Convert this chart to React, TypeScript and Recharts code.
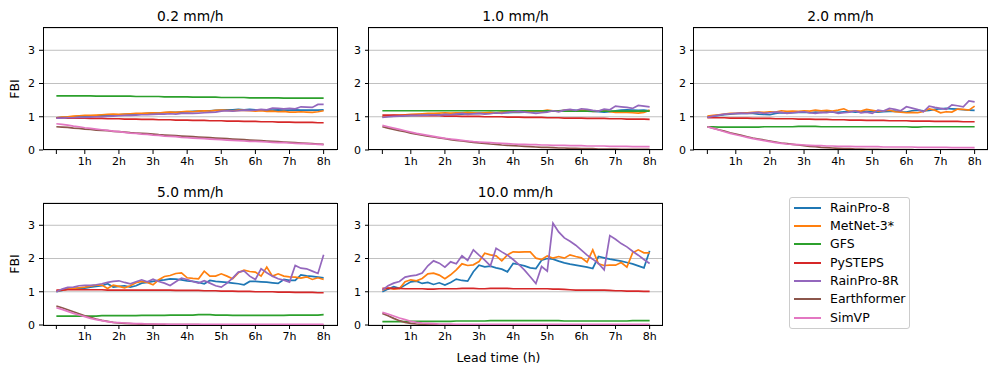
import React from "react";
import { LineChart, Line, XAxis, YAxis, CartesianGrid } from "recharts";

const models = ["RainPro-8", "MetNet-3*", "GFS", "PySTEPS", "RainPro-8R", "Earthformer", "SimVP"];
const keys = ["rp8", "mn3", "gfs", "pys", "rp8r", "ef", "sim"];
const colors = ["#1f77b4", "#ff7f0e", "#2ca02c", "#d62728", "#9467bd", "#8c564b", "#e377c2"];
const thresholds = ["0.2 mm/h", "1.0 mm/h", "2.0 mm/h", "5.0 mm/h", "10.0 mm/h"];

// lead-time steps are 10 min, index 0 = first step
const tickIndex = [0, 5, 11, 17, 23, 29, 35, 41, 47];
const tickLabels = ["", "1h", "2h", "3h", "4h", "5h", "6h", "7h", "8h"];
const yTicks = [0, 1, 2, 3];

// ---- 0.2 mm/h ----
const rp8_t02 = [
  0.97, 0.98, 0.99, 1.0, 1.01, 1.02, 1.02, 1.03, 1.04, 1.05, 1.05, 1.06,
  1.07, 1.08, 1.08, 1.09, 1.1, 1.11, 1.11, 1.12, 1.13, 1.13, 1.14, 1.15,
  1.16, 1.17, 1.18, 1.18, 1.19, 1.2, 1.21, 1.21, 1.22, 1.21, 1.22, 1.21,
  1.2, 1.21, 1.2, 1.21, 1.2, 1.2, 1.21, 1.2, 1.2, 1.2, 1.2, 1.21,
];
const mn3_t02 = [
  0.97, 0.99, 1.0, 1.02, 1.03, 1.04, 1.04, 1.05, 1.06, 1.07, 1.08, 1.07,
  1.08, 1.09, 1.1, 1.1, 1.11, 1.12, 1.11, 1.13, 1.14, 1.13, 1.15, 1.16,
  1.15, 1.17, 1.18, 1.17, 1.19, 1.2, 1.19, 1.18, 1.2, 1.19, 1.18, 1.17,
  1.18, 1.16, 1.17, 1.15, 1.16, 1.14, 1.14, 1.15, 1.14, 1.13, 1.15, 1.18,
];
const gfs_t02 = [
  1.63, 1.63, 1.63, 1.63, 1.63, 1.63, 1.63, 1.62, 1.62, 1.62, 1.62, 1.62,
  1.62, 1.62, 1.61, 1.61, 1.61, 1.61, 1.61, 1.6, 1.6, 1.6, 1.6, 1.6,
  1.59, 1.59, 1.59, 1.59, 1.59, 1.58, 1.58, 1.58, 1.58, 1.58, 1.57, 1.57,
  1.57, 1.57, 1.57, 1.57, 1.56, 1.56, 1.56, 1.56, 1.56, 1.56, 1.56, 1.56,
];
const pys_t02 = [
  0.97, 0.97, 0.96, 0.96, 0.96, 0.96, 0.95, 0.95, 0.95, 0.94, 0.94, 0.94,
  0.93, 0.93, 0.93, 0.92, 0.92, 0.92, 0.91, 0.91, 0.91, 0.9, 0.9, 0.9,
  0.89, 0.89, 0.89, 0.88, 0.88, 0.88, 0.87, 0.87, 0.87, 0.86, 0.86, 0.86,
  0.85, 0.85, 0.85, 0.84, 0.84, 0.84, 0.83, 0.83, 0.83, 0.83, 0.82, 0.82,
];
const rp8r_t02 = [
  0.96, 0.96, 0.97, 0.97, 0.98, 0.98, 0.99, 1.0, 1.0, 1.01, 1.02, 1.03,
  1.04, 1.04, 1.05, 1.06, 1.06, 1.07, 1.08, 1.08, 1.09, 1.08, 1.1, 1.11,
  1.1, 1.11, 1.12, 1.13, 1.14, 1.17, 1.18, 1.17, 1.18, 1.2, 1.19, 1.2,
  1.22, 1.21, 1.26, 1.25, 1.24, 1.25, 1.24, 1.3, 1.29, 1.28, 1.37, 1.37,
];
const ef_t02 = [
  0.7, 0.69, 0.68, 0.66, 0.65, 0.63, 0.62, 0.6, 0.59, 0.58, 0.56, 0.55,
  0.54, 0.52, 0.51, 0.5, 0.49, 0.48, 0.46, 0.45, 0.44, 0.43, 0.42, 0.41,
  0.4, 0.39, 0.38, 0.37, 0.36, 0.35, 0.34, 0.33, 0.32, 0.31, 0.3, 0.29,
  0.28, 0.27, 0.26, 0.25, 0.24, 0.23, 0.22, 0.21, 0.2, 0.19, 0.18, 0.17,
];
const sim_t02 = [
  0.79, 0.77, 0.75, 0.72, 0.7, 0.67, 0.65, 0.63, 0.61, 0.59, 0.57, 0.55,
  0.53, 0.51, 0.5, 0.48, 0.47, 0.45, 0.44, 0.42, 0.41, 0.4, 0.38, 0.37,
  0.36, 0.35, 0.34, 0.33, 0.32, 0.31, 0.3, 0.29, 0.28, 0.27, 0.26, 0.26,
  0.25, 0.24, 0.23, 0.22, 0.22, 0.21, 0.2, 0.19, 0.19, 0.18, 0.17, 0.16,
];

// ---- 1.0 mm/h ----
const rp8_t10 = [
  1.0, 1.01, 1.02, 1.02, 1.03, 1.04, 1.04, 1.05, 1.05, 1.06, 1.06, 1.07,
  1.07, 1.08, 1.08, 1.09, 1.09, 1.1, 1.1, 1.11, 1.11, 1.12, 1.12, 1.13,
  1.13, 1.14, 1.14, 1.15, 1.16, 1.17, 1.17, 1.18, 1.19, 1.2, 1.19, 1.18,
  1.17, 1.16, 1.15, 1.14, 1.15, 1.18, 1.2, 1.21, 1.2, 1.19, 1.2, 1.18,
];
const mn3_t10 = [
  1.0, 1.02, 1.04, 1.05, 1.06, 1.07, 1.08, 1.09, 1.1, 1.1, 1.11, 1.12,
  1.11, 1.12, 1.12, 1.13, 1.12, 1.11, 1.12, 1.13, 1.12, 1.14, 1.15, 1.16,
  1.15, 1.17, 1.16, 1.18, 1.17, 1.2, 1.18, 1.17, 1.19, 1.18, 1.17, 1.2,
  1.19, 1.16, 1.17, 1.2, 1.15, 1.13, 1.14, 1.13, 1.12, 1.11, 1.13, 1.2,
];
const gfs_t10 = [
  1.18, 1.18, 1.18, 1.18, 1.18, 1.18, 1.18, 1.18, 1.18, 1.18, 1.18, 1.18,
  1.18, 1.18, 1.18, 1.18, 1.18, 1.18, 1.18, 1.18, 1.18, 1.18, 1.18, 1.18,
  1.18, 1.18, 1.18, 1.18, 1.18, 1.18, 1.17, 1.17, 1.17, 1.17, 1.17, 1.17,
  1.17, 1.17, 1.17, 1.17, 1.17, 1.17, 1.17, 1.17, 1.17, 1.17, 1.17, 1.17,
];
const pys_t10 = [
  1.05, 1.05, 1.05, 1.04, 1.04, 1.04, 1.04, 1.03, 1.03, 1.03, 1.03, 1.02,
  1.02, 1.02, 1.01, 1.01, 1.01, 1.01, 1.0, 1.0, 1.0, 1.0, 0.99, 0.99,
  0.99, 0.98, 0.98, 0.98, 0.98, 0.97, 0.97, 0.97, 0.96, 0.96, 0.96, 0.96,
  0.95, 0.95, 0.95, 0.95, 0.94, 0.94, 0.94, 0.93, 0.93, 0.93, 0.93, 0.92,
];
const rp8r_t10 = [
  0.98, 1.0, 1.01, 1.02, 1.03, 1.04, 1.04, 1.05, 1.05, 1.06, 1.05, 1.07,
  1.06, 1.08, 1.1, 1.07, 1.09, 1.1, 1.08, 1.09, 1.12, 1.1, 1.13, 1.15,
  1.16, 1.14, 1.12, 1.1, 1.12, 1.14, 1.18, 1.15, 1.2, 1.22, 1.19, 1.24,
  1.22, 1.19, 1.17, 1.23, 1.21, 1.32, 1.3, 1.28, 1.25, 1.34, 1.32, 1.3,
];
const ef_t10 = [
  0.7, 0.66, 0.62, 0.58, 0.55, 0.51, 0.48, 0.45, 0.42, 0.39, 0.36, 0.34,
  0.31, 0.29, 0.27, 0.25, 0.23, 0.21, 0.2, 0.18, 0.17, 0.15, 0.14, 0.13,
  0.12, 0.11, 0.1, 0.09, 0.08, 0.08, 0.07, 0.06, 0.06, 0.05, 0.05, 0.04,
  0.04, 0.04, 0.03, 0.03, 0.03, 0.03, 0.02, 0.02, 0.02, 0.02, 0.02, 0.02,
];
const sim_t10 = [
  0.74, 0.7, 0.66, 0.62, 0.58, 0.54, 0.5, 0.47, 0.44, 0.41, 0.38, 0.35,
  0.33, 0.31, 0.29, 0.27, 0.25, 0.24, 0.23, 0.22, 0.21, 0.2, 0.19, 0.18,
  0.17, 0.17, 0.16, 0.16, 0.15, 0.15, 0.14, 0.14, 0.14, 0.13, 0.13, 0.13,
  0.12, 0.12, 0.12, 0.12, 0.11, 0.11, 0.11, 0.11, 0.1, 0.1, 0.1, 0.1,
];

// ---- 2.0 mm/h ----
const rp8_t20 = [
  1.0, 1.02, 1.04, 1.06, 1.08, 1.09, 1.1, 1.11, 1.1, 1.08, 1.07, 1.06,
  1.1, 1.12, 1.11, 1.12, 1.13, 1.14, 1.12, 1.14, 1.13, 1.15, 1.14, 1.13,
  1.15, 1.16, 1.14, 1.15, 1.16, 1.15, 1.14, 1.15, 1.16, 1.17, 1.15, 1.14,
  1.18, 1.2, 1.18, 1.19, 1.22, 1.24, 1.25, 1.24, 1.23, 1.21, 1.2, 1.19,
];
const mn3_t20 = [
  1.02, 1.04, 1.06, 1.08, 1.1, 1.1, 1.12, 1.12, 1.13, 1.14, 1.13, 1.15,
  1.14, 1.18, 1.16, 1.17, 1.16, 1.18, 1.17, 1.2, 1.18, 1.19, 1.17, 1.2,
  1.24, 1.16, 1.18, 1.17, 1.22, 1.19, 1.16, 1.18, 1.2, 1.15, 1.14, 1.12,
  1.13, 1.12, 1.16, 1.24, 1.2, 1.12, 1.15, 1.14, 1.23, 1.22, 1.2, 1.32,
];
const gfs_t20 = [
  0.7, 0.7, 0.69, 0.69, 0.69, 0.69, 0.69, 0.69, 0.69, 0.69, 0.7, 0.7,
  0.7, 0.7, 0.7, 0.7, 0.71, 0.71, 0.71, 0.71, 0.7, 0.7, 0.7, 0.7,
  0.7, 0.7, 0.7, 0.7, 0.7, 0.7, 0.7, 0.7, 0.7, 0.7, 0.7, 0.7,
  0.69, 0.69, 0.7, 0.7, 0.7, 0.7, 0.7, 0.7, 0.7, 0.7, 0.7, 0.7,
];
const pys_t20 = [
  0.97, 0.97, 0.97, 0.97, 0.96, 0.96, 0.96, 0.96, 0.95, 0.95, 0.95, 0.95,
  0.94, 0.94, 0.94, 0.94, 0.93, 0.93, 0.93, 0.92, 0.92, 0.92, 0.91, 0.91,
  0.91, 0.9, 0.9, 0.9, 0.89, 0.89, 0.89, 0.89, 0.88, 0.88, 0.88, 0.88,
  0.87, 0.87, 0.87, 0.87, 0.86, 0.86, 0.86, 0.86, 0.86, 0.85, 0.85, 0.85,
];
const rp8r_t20 = [
  0.98, 1.02, 1.05, 1.08, 1.09, 1.1, 1.11, 1.1, 1.12, 1.13, 1.1, 1.12,
  1.14, 1.13, 1.1, 1.12, 1.14, 1.15, 1.12, 1.1, 1.13, 1.12, 1.15, 1.1,
  1.12, 1.14, 1.18, 1.12, 1.14, 1.1, 1.2, 1.17, 1.25, 1.22, 1.18, 1.3,
  1.26, 1.22, 1.15, 1.32, 1.28, 1.25, 1.22, 1.36, 1.33, 1.3, 1.48, 1.45,
];
const ef_t20 = [
  0.7, 0.66, 0.61, 0.57, 0.52, 0.48, 0.44, 0.4, 0.36, 0.33, 0.3, 0.27,
  0.24, 0.21, 0.19, 0.17, 0.15, 0.13, 0.11, 0.1, 0.08, 0.07, 0.06, 0.05,
  0.04, 0.04, 0.03, 0.03, 0.02, 0.02, 0.02, 0.01, 0.01, 0.01, 0.01, 0.01,
  0.01, 0.0, 0.0, 0.0, 0.0, 0.0, 0.0, 0.0, 0.0, 0.0, 0.0, 0.0,
];
const sim_t20 = [
  0.7, 0.65, 0.6, 0.55, 0.5, 0.46, 0.42, 0.38, 0.34, 0.31, 0.28, 0.25,
  0.22, 0.2, 0.18, 0.17, 0.16, 0.15, 0.14, 0.13, 0.13, 0.12, 0.12, 0.11,
  0.11, 0.11, 0.1, 0.1, 0.1, 0.1, 0.1, 0.09, 0.09, 0.09, 0.09, 0.09,
  0.09, 0.08, 0.08, 0.08, 0.08, 0.08, 0.08, 0.07, 0.07, 0.07, 0.07, 0.07,
];

// ---- 5.0 mm/h ----
const rp8_t50 = [
  1.0, 1.04, 1.09, 1.1, 1.11, 1.11, 1.14, 1.16, 1.18, 1.24, 1.14, 1.16,
  1.18, 1.14, 1.18, 1.26, 1.28, 1.31, 1.34, 1.36, 1.39, 1.38, 1.36, 1.33,
  1.31, 1.28, 1.24, 1.34, 1.31, 1.3, 1.28, 1.26, 1.24, 1.21, 1.31, 1.31,
  1.3, 1.29, 1.27, 1.25, 1.37, 1.34, 1.34, 1.51, 1.48, 1.46, 1.44, 1.42,
];
const mn3_t50 = [
  1.02, 1.05, 1.08, 1.1, 1.12, 1.14, 1.17, 1.2, 1.2, 1.1, 1.2, 1.16,
  1.12, 1.18, 1.27, 1.31, 1.28, 1.21, 1.36, 1.46, 1.49, 1.55, 1.57, 1.42,
  1.4, 1.39, 1.62, 1.47, 1.47, 1.54, 1.47, 1.39, 1.57, 1.65, 1.61, 1.59,
  1.47, 1.74, 1.47, 1.54, 1.47, 1.45, 1.44, 1.41, 1.45, 1.37, 1.42, 1.37,
];
const gfs_t50 = [
  0.27, 0.27, 0.27, 0.27, 0.27, 0.27, 0.27, 0.27, 0.28, 0.28, 0.28, 0.28,
  0.28, 0.28, 0.28, 0.29, 0.29, 0.29, 0.29, 0.29, 0.3, 0.3, 0.3, 0.3,
  0.3, 0.31, 0.31, 0.31, 0.3, 0.3, 0.3, 0.29, 0.29, 0.29, 0.29, 0.29,
  0.29, 0.29, 0.29, 0.29, 0.29, 0.3, 0.3, 0.3, 0.3, 0.3, 0.3, 0.31,
];
const pys_t50 = [
  1.05, 1.05, 1.06, 1.06, 1.06, 1.06, 1.06, 1.06, 1.06, 1.05, 1.05, 1.05,
  1.05, 1.05, 1.05, 1.05, 1.05, 1.05, 1.05, 1.05, 1.05, 1.04, 1.04, 1.04,
  1.04, 1.04, 1.03, 1.03, 1.03, 1.02, 1.02, 1.02, 1.01, 1.01, 1.01, 1.0,
  1.0, 1.0, 1.0, 0.99, 0.99, 0.99, 0.98, 0.98, 0.98, 0.98, 0.97, 0.97,
];
const rp8r_t50 = [
  1.0, 1.08, 1.13, 1.14, 1.18, 1.19, 1.19, 1.21, 1.24, 1.28, 1.31, 1.33,
  1.28, 1.24, 1.3, 1.36, 1.3, 1.38, 1.31, 1.26, 1.19, 1.3, 1.41, 1.37,
  1.31, 1.26, 1.33, 1.26, 1.18, 1.14, 1.26, 1.41, 1.59, 1.63, 1.47, 1.37,
  1.69, 1.57, 1.47, 1.39, 1.35, 1.29, 1.79, 1.71, 1.69, 1.62, 1.55, 2.11,
];
const ef_t50 = [
  0.57, 0.52, 0.46, 0.4, 0.34, 0.28, 0.23, 0.18, 0.14, 0.11, 0.08, 0.06,
  0.05, 0.04, 0.03, 0.02, 0.02, 0.02, 0.01, 0.01, 0.01, 0.01, 0.01, 0.01,
  0.01, 0.01, 0.0, 0.0, 0.0, 0.0, 0.0, 0.0, 0.0, 0.0, 0.0, 0.0,
  0.0, 0.0, 0.0, 0.0, 0.0, 0.0, 0.0, 0.0, 0.0, 0.0, 0.0, 0.0,
];
const sim_t50 = [
  0.52, 0.47, 0.41, 0.35, 0.3, 0.25, 0.2, 0.16, 0.13, 0.1, 0.08, 0.07,
  0.06, 0.05, 0.04, 0.04, 0.03, 0.03, 0.03, 0.03, 0.02, 0.02, 0.02, 0.02,
  0.02, 0.02, 0.02, 0.02, 0.02, 0.02, 0.02, 0.02, 0.02, 0.02, 0.02, 0.02,
  0.02, 0.02, 0.02, 0.02, 0.02, 0.02, 0.02, 0.02, 0.02, 0.02, 0.02, 0.02,
];

// ---- 10.0 mm/h ----
const rp8_t100 = [
  1.0, 1.08, 1.15, 1.1, 1.2, 1.3, 1.32, 1.25, 1.28, 1.22, 1.27, 1.2,
  1.28, 1.38, 1.34, 1.32, 1.6, 1.8, 1.75, 1.77, 1.72, 1.68, 1.6, 1.85,
  1.82, 1.78, 1.72, 1.7, 1.95, 2.0, 1.98, 1.92, 1.87, 1.83, 1.8, 1.77,
  1.74, 1.7, 2.06, 2.02, 1.98, 1.95, 1.92, 1.88, 1.84, 1.78, 1.72, 2.23,
];
const mn3_t100 = [
  1.05, 1.12, 1.08, 1.1, 1.3, 1.36, 1.33, 1.4, 1.54, 1.56, 1.5, 1.39,
  1.51, 1.66, 1.84, 1.79, 1.81, 1.91, 2.16, 2.11, 2.08, 1.93, 2.11, 2.2,
  2.19, 2.2, 2.2, 2.01, 1.97, 2.08, 2.01, 2.06, 2.01, 2.11, 2.06, 2.02,
  1.89, 2.26, 1.84, 1.79, 1.8, 1.8, 1.88, 1.74, 2.17, 2.26, 2.17, 2.17,
];
const gfs_t100 = [
  0.1, 0.1, 0.1, 0.1, 0.1, 0.11, 0.11, 0.11, 0.11, 0.11, 0.11, 0.11,
  0.11, 0.12, 0.12, 0.12, 0.12, 0.12, 0.12, 0.13, 0.13, 0.13, 0.13, 0.13,
  0.13, 0.13, 0.13, 0.13, 0.13, 0.13, 0.13, 0.13, 0.12, 0.12, 0.12, 0.12,
  0.12, 0.12, 0.12, 0.12, 0.12, 0.12, 0.12, 0.12, 0.13, 0.13, 0.13, 0.13,
];
const pys_t100 = [
  1.1, 1.1, 1.1, 1.1, 1.09, 1.09, 1.09, 1.09, 1.08, 1.08, 1.09, 1.09,
  1.09, 1.09, 1.1, 1.1, 1.1, 1.09, 1.09, 1.1, 1.1, 1.1, 1.1, 1.09,
  1.09, 1.09, 1.09, 1.09, 1.09, 1.09, 1.08, 1.08, 1.07, 1.06, 1.05, 1.05,
  1.05, 1.05, 1.05, 1.05, 1.04, 1.03, 1.03, 1.02, 1.02, 1.02, 1.01, 1.01,
];
const rp8r_t100 = [
  1.05, 1.18, 1.26, 1.31, 1.44, 1.48, 1.5, 1.56, 1.78, 1.93, 1.86, 1.74,
  1.9, 1.84, 2.08, 1.94, 2.26, 2.1, 1.95, 1.78, 2.31, 2.2, 2.1, 1.97,
  1.82, 1.65, 1.45, 1.25, 1.76, 1.62, 3.06, 2.8, 2.62, 2.52, 2.4, 2.25,
  2.1, 1.98, 1.85, 1.66, 2.69, 2.58, 2.45, 2.35, 2.22, 2.1, 1.97, 1.85,
];
const ef_t100 = [
  0.35, 0.28, 0.2, 0.13, 0.08, 0.05, 0.03, 0.02, 0.01, 0.01, 0.0, 0.0,
  0.0, 0.0, 0.0, 0.0, 0.0, 0.0, 0.0, 0.0, 0.0, 0.0, 0.0, 0.0,
  0.0, 0.0, 0.0, 0.0, 0.0, 0.0, 0.0, 0.0, 0.0, 0.0, 0.0, 0.0,
  0.0, 0.0, 0.0, 0.0, 0.0, 0.0, 0.0, 0.0, 0.0, 0.0, 0.0, 0.0,
];
const sim_t100 = [
  0.38, 0.33, 0.27, 0.21, 0.16, 0.11, 0.08, 0.06, 0.05, 0.04, 0.03, 0.03,
  0.03, 0.02, 0.02, 0.02, 0.02, 0.02, 0.02, 0.02, 0.02, 0.02, 0.02, 0.02,
  0.02, 0.02, 0.02, 0.02, 0.02, 0.02, 0.02, 0.02, 0.02, 0.02, 0.02, 0.02,
  0.02, 0.02, 0.02, 0.02, 0.02, 0.02, 0.02, 0.02, 0.02, 0.02, 0.02, 0.02,
];

const panelSeries = [
  [rp8_t02, mn3_t02, gfs_t02, pys_t02, rp8r_t02, ef_t02, sim_t02],
  [rp8_t10, mn3_t10, gfs_t10, pys_t10, rp8r_t10, ef_t10, sim_t10],
  [rp8_t20, mn3_t20, gfs_t20, pys_t20, rp8r_t20, ef_t20, sim_t20],
  [rp8_t50, mn3_t50, gfs_t50, pys_t50, rp8r_t50, ef_t50, sim_t50],
  [rp8_t100, mn3_t100, gfs_t100, pys_t100, rp8r_t100, ef_t100, sim_t100],
];

const FONT = "'DejaVu Sans', sans-serif";
const PLOT_W = 294;
const PLOT_H = 122;
const COL_X = [43.3, 368.5, 693.5];
const ROW_Y = [27.5, 203.3];

function Panel({ idx }: { idx: number }) {
  const series = panelSeries[idx];
  const left = COL_X[idx % 3];
  const top = ROW_Y[Math.floor(idx / 3)];
  const data = series[0].map((_, i) => {
    const row: any = { i };
    keys.forEach((k, s) => (row[k] = series[s][i]));
    return row;
  });
  const tickStyle = { fill: "#000", fontSize: 11, fontFamily: FONT };

  return (
    <>
      <div style={{ position: "absolute", left: left - 40, top: top - 10 }}>
        <LineChart width={PLOT_W + 50} height={PLOT_H + 40} data={data}
          margin={{ top: 10, right: 10, bottom: 0, left: 10 }}>
          <CartesianGrid vertical={false} stroke="#b0b0b0" strokeWidth={0.8} />
          <XAxis type="number" dataKey="i" domain={[-2.35, 49.35]} allowDataOverflow
            ticks={tickIndex} interval={0} height={30} tickSize={4} tickMargin={3}
            tickFormatter={(v) => tickLabels[tickIndex.indexOf(v)] ?? ""}
            axisLine={false} tickLine={{ stroke: "#000" }} tick={tickStyle} />
          <YAxis type="number" domain={[0, 3.67]} allowDataOverflow ticks={yTicks} interval={0}
            width={30} tickSize={4} tickMargin={4}
            axisLine={false} tickLine={{ stroke: "#000" }} tick={tickStyle} />
          {keys.map((k, s) => (
            <Line key={k} dataKey={k} name={models[s]} stroke={colors[s]} strokeWidth={1.7}
              dot={false} isAnimationActive={false} />
          ))}
        </LineChart>
      </div>
      <div style={{
        position: "absolute", left: left - 0.5, top: top - 0.5, width: PLOT_W + 1, height: PLOT_H + 1,
        border: "1px solid #000", boxSizing: "border-box", pointerEvents: "none",
      }} />
      <div style={{
        position: "absolute", left, width: PLOT_W, top: top - 12 - 0.563 * 13.8,
        textAlign: "center", fontSize: 13.8, fontFamily: FONT, color: "#000",
      }}>{thresholds[idx]}</div>
      {idx % 3 === 0 && (
        <div style={{
          position: "absolute", left: 15, top: top + PLOT_H / 2, lineHeight: 1,
          transform: "translate(-50%, -50%) rotate(-90deg)", fontSize: 12.5,
          fontFamily: FONT, color: "#000", whiteSpace: "nowrap",
        }}>FBI</div>
      )}
    </>
  );
}

function LegendBox() {
  return (
    <div style={{
      position: "absolute", left: 789, top: 196.5, width: 121, height: 132.5,
      border: "1px solid #cccccc", borderRadius: 3, boxSizing: "border-box", background: "#fff",
    }}>
      {models.map((m, s) => (
        <div key={m} style={{ position: "absolute", left: 0, top: 10.2 + 18.3 * s - 9, height: 18, width: 119 }}>
          <div style={{ position: "absolute", left: 3.5, top: 8, width: 27.5, height: 2, background: colors[s] }} />
          <div style={{
            position: "absolute", left: 40, top: 0, lineHeight: "18px", fontSize: 12.5,
            fontFamily: FONT, color: "#000", whiteSpace: "nowrap",
          }}>{m}</div>
        </div>
      ))}
    </div>
  );
}

export default function App() {
  return (
    <div style={{ position: "absolute", left: 0, top: 0, width: 997, height: 373, background: "#fff", overflow: "hidden" }}>
      {[0, 1, 2, 3, 4].map((i) => <Panel key={i} idx={i} />)}
      <LegendBox />
      <div style={{
        position: "absolute", left: 0, width: 997, top: 356.7 - 0.563 * 12.5,
        textAlign: "center", fontSize: 12.5, fontFamily: FONT, color: "#000",
      }}>Lead time (h)</div>
    </div>
  );
}
